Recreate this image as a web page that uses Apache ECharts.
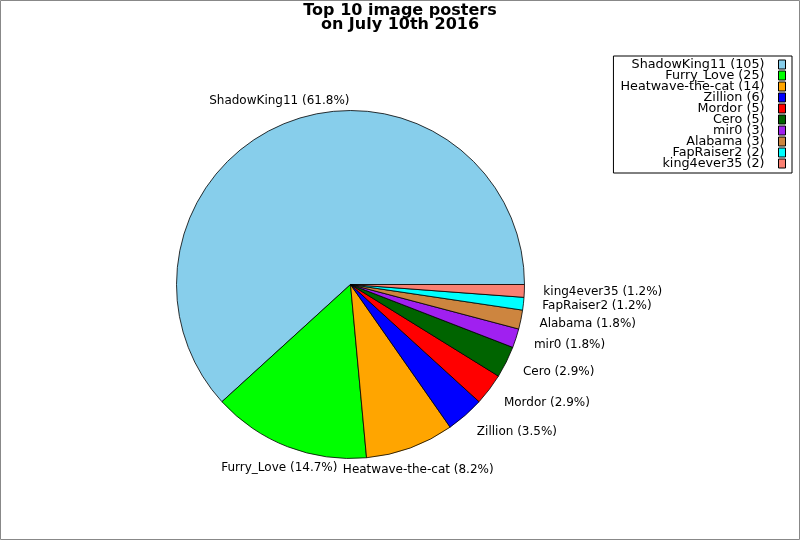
<!DOCTYPE html>
<html>
<head>
<meta charset="utf-8">
<script src="https://cdn.jsdelivr.net/npm/echarts@6/dist/echarts.min.js"></script>
<style>html,body{margin:0;padding:0;background:#fff}#c{width:800px;height:540px}</style>
</head>
<body>
<div id="c"></div>
<script>
var names = ['ShadowKing11','Furry_Love','Heatwave-the-cat','Zillion','Mordor','Cero','mir0','Alabama','FapRaiser2','king4ever35'];
var counts = [105,25,14,6,5,5,3,3,2,2];
var colors = ['#87CEEB','#00FF00','#FFA500','#0000FF','#FF0000','#006400','#A020F0','#CD853F','#00FFFF','#FA8072'];
var centeredLabels = ['ShadowKing11','Furry_Love','Heatwave-the-cat'];
var titleText = 'Top 10 image posters\non July 10th 2016';

var total = counts.reduce(function(a,b){return a+b;},0);
function pct(v){ return (v/total*100).toFixed(1) + '%'; }
var FONT = 'DejaVu Sans';
var countByName = {};
names.forEach(function(n,i){ countByName[n] = counts[i]; });

var mainData = names.map(function(n,i){
  return {
    name: n, value: counts[i],
    itemStyle: {color: colors[i]},
    label: {show: centeredLabels.indexOf(n) < 0}
  };
});
var ringData = names.map(function(n,i){
  return {
    name: n, value: counts[i],
    label: {show: centeredLabels.indexOf(n) >= 0}
  };
});

var chart = echarts.init(document.getElementById('c'), null, {renderer: 'canvas'});
chart.setOption({
  animation: false,
  backgroundColor: '#fff',
  textStyle: {fontFamily: FONT},
  title: {
    text: titleText,
    left: 'center', top: 4,
    padding: 0,
    textStyle: {fontFamily: FONT, fontSize: 16, fontWeight: 'bold', color: '#000', lineHeight: 14}
  },
  legend: {
    orient: 'vertical',
    right: 8, top: 56,
    align: 'right',
    data: names,
    icon: 'rect',
    itemWidth: 7, itemHeight: 9, itemGap: -2,
    padding: [2, 6, 3, 7],
    borderColor: '#000', borderWidth: 1,
    backgroundColor: '#fff',
    selectedMode: false,
    itemStyle: {borderColor: '#000', borderWidth: 1},
    textStyle: {fontFamily: FONT, fontSize: 12.75, color: '#000', padding: [0, 9, 0, 0]},
    formatter: function(n){ return n + ' (' + countByName[n] + ')'; }
  },
  graphic: [{
    type: 'rect', silent: true, z: 100,
    shape: {x: 0.5, y: 0.5, width: 799, height: 539},
    style: {fill: 'none', stroke: '#888', lineWidth: 1}
  }],
  series: [{
    type: 'pie',
    center: [350.5, 284.5],
    radius: 174,
    startAngle: 0,
    clockwise: false,
    avoidLabelOverlap: false,
    minAngle: 0,
    itemStyle: {borderColor: '#000', borderWidth: 0.8},
    emphasis: {disabled: true},
    label: {
      position: 'outside',
      fontFamily: FONT, fontSize: 12, color: '#000',
      distanceToLabelLine: -3,
      formatter: function(p){ return p.name + ' (' + pct(p.value) + ')'; }
    },
    labelLine: {show: false, length: 22, length2: 0},
    data: mainData
  }, {
    type: 'pie',
    center: [350.5, 284.5],
    radius: [192, 196],
    startAngle: 0,
    clockwise: false,
    silent: true,
    avoidLabelOverlap: false,
    itemStyle: {color: 'rgba(0,0,0,0)', borderWidth: 0},
    emphasis: {disabled: true},
    label: {
      position: 'inside',
      fontFamily: FONT, fontSize: 12, color: '#000',
      formatter: function(p){ return p.name + ' (' + pct(p.value) + ')'; }
    },
    labelLine: {show: false},
    data: ringData
  }]
});
</script>
</body>
</html>
